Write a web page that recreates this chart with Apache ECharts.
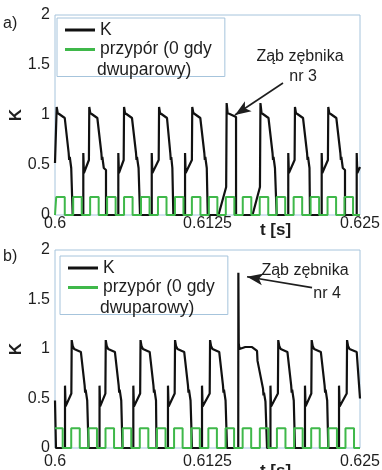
<!DOCTYPE html>
<html>
<head>
<meta charset="utf-8">
<script src="https://cdn.jsdelivr.net/npm/echarts@6/dist/echarts.min.js"></script>
<style>
  body { margin: 0; background: #fff; }
  #chart { width: 382px; height: 470px; }
</style>
</head>
<body>
<div id="chart"></div>
<script>
// osie
const tTicks = [0.6, 0.6125, 0.625]
const kTicks = [0, 0.5, 1, 1.5, 2]

// a) przebieg K, [t s, K]
const kTop = [
  [0.60000, 0.52],
  [0.60014, 1.08], [0.60022, 1.02], [0.60034, 1.00], [0.60080, 0.97], [0.60112, 0.62], [0.60116, 0.55], [0.60121, 0.58], [0.60133, 0.47], [0.60145, 0.45], [0.60145, 0], [0.60232, 0], [0.60232, 0.62], [0.60237, 0.42], [0.60278, 0.55],
  [0.60281, 1.08], [0.60289, 1.02], [0.60302, 1.00], [0.60347, 0.97], [0.60380, 0.62], [0.60384, 0.55], [0.60388, 0.58], [0.60400, 0.47], [0.60418, 0.45], [0.60418, 0], [0.60519, 0], [0.60519, 0.62], [0.60524, 0.42], [0.60563, 0.55],
  [0.60566, 1.08], [0.60574, 1.02], [0.60586, 1.00], [0.60631, 0.97], [0.60664, 0.62], [0.60668, 0.55], [0.60672, 0.58], [0.60685, 0.47], [0.60697, 0.45], [0.60697, 0], [0.60793, 0], [0.60793, 0.62], [0.60798, 0.42], [0.60850, 0.55],
  [0.60853, 1.08], [0.60861, 1.02], [0.60873, 1.00], [0.60918, 0.97], [0.60945, 0.62], [0.60949, 0.55], [0.60953, 0.58], [0.60962, 0.47], [0.60970, 0.45], [0.60970, 0], [0.61066, 0], [0.61066, 0.62], [0.61071, 0.42], [0.61122, 0.55],
  [0.61125, 1.08], [0.61134, 1.02], [0.61146, 1.00], [0.61191, 0.97], [0.61224, 0.62], [0.61228, 0.55], [0.61232, 0.58], [0.61244, 0.47], [0.61252, 0.45], [0.61252, 0], [0.61340, 0], [0.61403, 0.28],
  [0.61407, 1.12], [0.61415, 1.02], [0.61427, 1.00], [0.61484, 0.98], [0.61484, 0], [0.61619, 0], [0.61680, 0.28],
  [0.61684, 1.12], [0.61693, 1.02], [0.61705, 1.00], [0.61750, 0.97], [0.61783, 0.62], [0.61787, 0.55], [0.61791, 0.58], [0.61803, 0.47], [0.61817, 0.45], [0.61817, 0], [0.61912, 0], [0.61912, 0.62], [0.61917, 0.42], [0.61964, 0.55],
  [0.61967, 1.08], [0.61975, 1.02], [0.61988, 1.00], [0.62033, 0.97], [0.62066, 0.62], [0.62070, 0.55], [0.62074, 0.58], [0.62086, 0.47], [0.62090, 0.45], [0.62090, 0], [0.62186, 0], [0.62186, 0.62], [0.62191, 0.42], [0.62237, 0.55],
  [0.62240, 1.08], [0.62248, 1.02], [0.62261, 1.00], [0.62306, 0.97], [0.62339, 0.62], [0.62343, 0.55], [0.62347, 0.58], [0.62359, 0.47], [0.62377, 0.45], [0.62377, 0], [0.62473, 0], [0.62473, 0.62], [0.62478, 0.42], [0.62500, 0.48]
]

// a) przypór (schodki)
const przyporTop = [
  [0.60000, 0], [0.60010, 0.18], [0.60080, 0], [0.60149, 0.18], [0.60219, 0], [0.60288, 0.18], [0.60358, 0], [0.60427, 0.18],
  [0.60497, 0], [0.60566, 0.18], [0.60636, 0], [0.60705, 0.18], [0.60775, 0], [0.60844, 0.18], [0.60914, 0], [0.60983, 0.18],
  [0.61053, 0], [0.61122, 0.18], [0.61192, 0], [0.61261, 0.18], [0.61331, 0], [0.61400, 0.18], [0.61470, 0], [0.61539, 0.18],
  [0.61609, 0], [0.61678, 0.18], [0.61748, 0], [0.61817, 0.18], [0.61887, 0], [0.61956, 0.18], [0.62026, 0], [0.62095, 0.18],
  [0.62165, 0], [0.62234, 0.18], [0.62304, 0], [0.62373, 0.18], [0.62443, 0], [0.62500, 0]
]

// b) przebieg K
const kBottom = [
  [0.60000, 0.48], [0.60008, 0.46], [0.60008, 0], [0.60082, 0], [0.60082, 0.63], [0.60087, 0.42], [0.60134, 0.55],
  [0.60137, 1.09], [0.60145, 1.03], [0.60157, 1.00], [0.60212, 0.97], [0.60243, 0.63], [0.60247, 0.56], [0.60251, 0.59], [0.60264, 0.48], [0.60275, 0.46], [0.60275, 0], [0.60365, 0], [0.60365, 0.63], [0.60370, 0.42], [0.60413, 0.55],
  [0.60416, 1.09], [0.60424, 1.03], [0.60436, 1.00], [0.60491, 0.97], [0.60522, 0.63], [0.60526, 0.56], [0.60530, 0.59], [0.60543, 0.48], [0.60553, 0.46], [0.60553, 0], [0.60642, 0], [0.60642, 0.63], [0.60647, 0.42], [0.60698, 0.55],
  [0.60701, 1.09], [0.60709, 1.03], [0.60721, 1.00], [0.60776, 0.97], [0.60807, 0.63], [0.60811, 0.56], [0.60815, 0.59], [0.60828, 0.48], [0.60832, 0.46], [0.60832, 0], [0.60926, 0], [0.60926, 0.63], [0.60931, 0.42], [0.60981, 0.55],
  [0.60984, 1.09], [0.60992, 1.03], [0.61004, 1.00], [0.61059, 0.97], [0.61090, 0.63], [0.61094, 0.56], [0.61098, 0.59], [0.61111, 0.48], [0.61123, 0.46], [0.61123, 0], [0.61205, 0], [0.61205, 0.63], [0.61210, 0.42], [0.61268, 0.55],
  [0.61271, 1.09], [0.61279, 1.03], [0.61291, 1.00], [0.61346, 0.97], [0.61377, 0.63], [0.61381, 0.56], [0.61385, 0.59], [0.61398, 0.48], [0.61410, 0.46], [0.61410, 0], [0.61502, 0],
  [0.61503, 1.77], [0.61506, 1.06], [0.61512, 1.00], [0.61560, 1.02], [0.61615, 1.02], [0.61656, 0.98], [0.61660, 0.88], [0.61705, 0.60], [0.61709, 0.53], [0.61713, 0.56], [0.61725, 0.47], [0.61738, 0.45], [0.61738, 0], [0.61766, 0], [0.61766, 0.63], [0.61771, 0.42], [0.61827, 0.55],
  [0.61830, 1.09], [0.61838, 1.03], [0.61850, 1.00], [0.61905, 0.97], [0.61936, 0.63], [0.61940, 0.56], [0.61944, 0.59], [0.61957, 0.48], [0.61967, 0.46], [0.61967, 0], [0.62049, 0], [0.62049, 0.63], [0.62054, 0.42], [0.62101, 0.55],
  [0.62104, 1.09], [0.62112, 1.03], [0.62124, 1.00], [0.62179, 0.97], [0.62210, 0.63], [0.62214, 0.56], [0.62218, 0.59], [0.62231, 0.48], [0.62240, 0.46], [0.62240, 0], [0.62328, 0], [0.62328, 0.63], [0.62333, 0.42], [0.62391, 0.55],
  [0.62394, 1.09], [0.62402, 1.03], [0.62414, 1.00], [0.62473, 0.97], [0.62500, 0.50]
]

// b) przypór
const przyporBottom = [
  [0.60000, 0.2], [0.60063, 0], [0.60133, 0.2], [0.60203, 0], [0.60274, 0.2], [0.60344, 0], [0.60414, 0.2], [0.60484, 0],
  [0.60555, 0.2], [0.60625, 0], [0.60695, 0.2], [0.60765, 0], [0.60836, 0.2], [0.60906, 0], [0.60976, 0.2], [0.61046, 0],
  [0.61117, 0.2], [0.61187, 0], [0.61257, 0.2], [0.61327, 0], [0.61398, 0.2], [0.61468, 0], [0.61538, 0.2], [0.61608, 0],
  [0.61679, 0.2], [0.61749, 0], [0.61819, 0.2], [0.61889, 0], [0.61960, 0.2], [0.62030, 0], [0.62100, 0.2], [0.62170, 0],
  [0.62241, 0.2], [0.62311, 0], [0.62381, 0.2], [0.62451, 0], [0.62500, 0]
]

// adnotacje (wsp. danych)
const arrowTop = [[0.61869, 1.32], [0.61475, 1.0]]
const arrowBottom = [[0.62107, 1.62], [0.61574, 1.73]]
const notesTop = [['Ząb zębnika', 0.62008, 1.58], ['nr 3', 0.62033, 1.38]]
const notesBottom = [['Ząb zębnika', 0.62049, 1.79], ['nr 4', 0.62230, 1.56]]

const K_NAME = 'K'
const P_NAME = 'przypór (0 gdy dwuparowy)'
const P_LINES = ['przypór (0 gdy', 'dwuparowy)']
const frame = '#a6c4dc'
const font = '"Liberation Sans", Arial, sans-serif'
const ink = '#1e1e1e'

function makeX(gridIndex, margin, nameGap) {
  return {
    type: 'value',
    gridIndex,
    min: tTicks[0],
    max: tTicks[tTicks.length - 1],
    interval: tTicks[1] - tTicks[0],
    axisLine: { show: false },
    axisTick: { show: false },
    splitLine: { show: false },
    axisLabel: {
      color: ink, fontSize: 16, fontFamily: font, margin,
      showMinLabel: true, showMaxLabel: true,
      alignMinLabel: 'center', alignMaxLabel: 'center',
    },
    name: 't [s]',
    nameLocation: 'middle',
    nameGap,
    nameMoveOverlap: false,
    nameTextStyle: { color: ink, fontSize: 17, fontWeight: 'bold', fontFamily: font, padding: [0, 0, 0, 136] },
  }
}

function makeY(gridIndex) {
  return {
    type: 'value',
    gridIndex,
    min: kTicks[0],
    max: kTicks[kTicks.length - 1],
    interval: kTicks[1] - kTicks[0],
    axisLine: { show: false },
    axisTick: { show: false },
    splitLine: { show: false },
    axisLabel: { color: ink, fontSize: 16, fontFamily: font, margin: 5 },
    name: 'K',
    nameLocation: 'middle',
    nameGap: 30,
    nameMoveOverlap: false,
    nameTextStyle: { color: ink, fontSize: 17, fontWeight: 'bold', fontFamily: font },
  }
}

const legendText = { color: ink, fontSize: 17.5, fontFamily: font, lineHeight: 17.5 }

// ramka legendy z K i pierwszą linią opisu
function makeLegend(left, top) {
  return {
    orient: 'vertical',
    left,
    top,
    selectedMode: false,
    backgroundColor: '#fff',
    borderColor: frame,
    borderWidth: 1,
    borderRadius: 0,
    padding: [3, 13, 18, 8],
    icon: 'rect',
    itemWidth: 30,
    itemHeight: 3,
    itemGap: 1.5,
    textStyle: legendText,
    formatter: (n) => (n === P_NAME ? P_LINES[0] : n),
    data: [K_NAME, P_NAME],
  }
}

// druga linia opisu przyporu, bez ikony
function makeLegendTail(left, top) {
  return {
    orient: 'vertical',
    left: left + 5,
    top: top + 43,
    selectedMode: false,
    padding: 0,
    borderWidth: 0,
    icon: 'rect',
    itemWidth: 30,
    itemHeight: 3,
    itemStyle: { opacity: 0 },
    lineStyle: { opacity: 0 },
    textStyle: legendText,
    formatter: () => P_LINES[1],
    data: [P_NAME],
  }
}

function makeNotes(list) {
  return {
    silent: true,
    symbol: 'circle',
    symbolSize: 1,
    itemStyle: { color: 'rgba(0,0,0,0)' },
    label: { show: true, position: 'inside', color: ink, fontSize: 16, fontFamily: font },
    data: list.map((n) => ({ coord: [n[1], n[2]], label: { formatter: n[0] } })),
  }
}

function makeArrow(pts) {
  return {
    silent: true,
    symbol: ['none', 'arrow'],
    symbolSize: [9, 16],
    lineStyle: { color: ink, width: 1.6, type: 'solid' },
    label: { show: false },
    data: [[{ coord: pts[0] }, { coord: pts[1] }]],
  }
}

function kSeries(i, data, arrow, notes) {
  return {
    name: K_NAME,
    type: 'line',
    xAxisIndex: i,
    yAxisIndex: i,
    data,
    showSymbol: false,
    symbol: 'none',
    lineStyle: { color: '#111', width: 2.2 },
    itemStyle: { color: '#111' },
    markLine: makeArrow(arrow),
    markPoint: makeNotes(notes),
  }
}

function pSeries(i, data) {
  return {
    name: P_NAME,
    type: 'line',
    xAxisIndex: i,
    yAxisIndex: i,
    data,
    step: 'end',
    showSymbol: false,
    symbol: 'none',
    lineStyle: { color: '#3fb84a', width: 2 },
    itemStyle: { color: '#3fb84a' },
  }
}

const chart = echarts.init(document.getElementById('chart'), null, { renderer: 'canvas' })
chart.setOption({
  animation: false,
  backgroundColor: '#fff',
  grid: [
    { left: 55, top: 15, width: 305, height: 200, show: true, borderColor: frame, borderWidth: 1, outerBoundsMode: 'none' },
    { left: 55, top: 250, width: 305, height: 198, show: true, borderColor: frame, borderWidth: 1, outerBoundsMode: 'none' },
  ],
  xAxis: [makeX(0, 1, 7), makeX(1, 6, 15)],
  yAxis: [makeY(0), makeY(1)],
  legend: [makeLegend(57, 18), makeLegend(60, 256), makeLegendTail(57, 18), makeLegendTail(60, 256)],
  graphic: [
    { type: 'text', left: 3, top: 16, style: { text: 'a)', fill: ink, font: '16px ' + font } },
    { type: 'text', left: 3, top: 249, style: { text: 'b)', fill: ink, font: '16px ' + font } },
  ],
  series: [
    kSeries(0, kTop, arrowTop, notesTop),
    pSeries(0, przyporTop),
    kSeries(1, kBottom, arrowBottom, notesBottom),
    pSeries(1, przyporBottom),
  ],
})
</script>
</body>
</html>
